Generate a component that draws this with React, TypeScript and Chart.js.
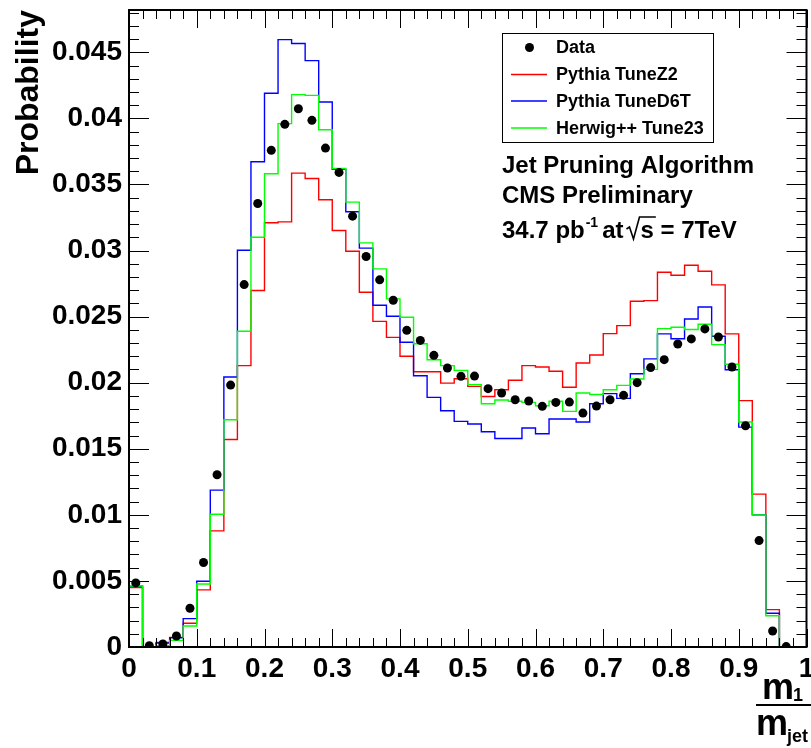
import React, { useEffect, useRef } from 'react';
import { Chart, registerables } from 'chart.js';

Chart.register(...registerables);

const FONT = '"Liberation Sans", Arial, Helvetica, sans-serif';

// bin centres of the m1/mjet histogram (50 bins)
const binCenters = [
  0.01, 0.03, 0.05, 0.07, 0.09, 0.11, 0.13, 0.15, 0.17, 0.19,
  0.21, 0.23, 0.25, 0.27, 0.29, 0.31, 0.33, 0.35, 0.37, 0.39,
  0.41, 0.43, 0.45, 0.47, 0.49, 0.51, 0.53, 0.55, 0.57, 0.59,
  0.61, 0.63, 0.65, 0.67, 0.69, 0.71, 0.73, 0.75, 0.77, 0.79,
  0.81, 0.83, 0.85, 0.87, 0.89, 0.91, 0.93, 0.95, 0.97, 0.99,
];
const BIN_WIDTH = 0.02;

const dataValues: (number | null)[] = [
  0.00485, 0.0001, 0.00023, 0.00083, 0.00293, 0.00639, 0.01303, 0.01982, 0.02742, 0.03356,
  0.03758, 0.03955, 0.04073, 0.03985, 0.03775, 0.03591, 0.0326, 0.02955, 0.02778, 0.02624,
  0.02396, 0.0232, 0.02207, 0.02111, 0.02048, 0.0205, 0.01955, 0.01922, 0.01871, 0.01861,
  0.01821, 0.01851, 0.01853, 0.0177, 0.01823, 0.01871, 0.01904, 0.02, 0.02114, 0.02174,
  0.02293, 0.02331, 0.02407, 0.02346, 0.02119, 0.01674, 0.00805, 0.00121, 0.00003, null,
];

const pythiaZ2 = [
  0.00449, 0.00002, 0.00035, 0.00073, 0.0018, 0.00432, 0.00879, 0.0157, 0.02129, 0.02697,
  0.0321, 0.03217, 0.03586, 0.03545, 0.03384, 0.03152, 0.02995, 0.02684, 0.02464, 0.02343,
  0.022, 0.02083, 0.02083, 0.01997, 0.0203, 0.01972, 0.01896, 0.01947, 0.02018, 0.02129,
  0.02119, 0.02086, 0.01965, 0.02149, 0.0221, 0.02371, 0.02432, 0.02616, 0.02621, 0.02836,
  0.02813, 0.02889, 0.02843, 0.0274, 0.02369, 0.01864, 0.01157, 0.00283, 0.0, 0.0,
];

const pythiaD6T = [
  0.0046, 0.00002, 0.0003, 0.0007, 0.00215, 0.00497, 0.01187, 0.02043, 0.03002, 0.03672,
  0.0419, 0.04596, 0.04566, 0.04437, 0.04124, 0.03614, 0.03293, 0.03018, 0.02586, 0.02503,
  0.02306, 0.02053, 0.01889, 0.01788, 0.01707, 0.01687, 0.01629, 0.01578, 0.01578, 0.01657,
  0.01614, 0.01725, 0.01725, 0.01702, 0.01841, 0.01917, 0.01881, 0.02068, 0.0218, 0.02369,
  0.02333, 0.02482, 0.02573, 0.02351, 0.02098, 0.01664, 0.01, 0.00255, 0.0, 0.0,
];

const herwig23 = [
  0.00462, 0.00001, 0.0001, 0.0005, 0.00159, 0.00477, 0.01005, 0.0172, 0.02389, 0.03101,
  0.03581, 0.0396, 0.0418, 0.04174, 0.03914, 0.03621, 0.03366, 0.03058, 0.02861, 0.02634,
  0.02495, 0.02295, 0.02174, 0.02129, 0.02093, 0.01985, 0.01841, 0.01869, 0.0186, 0.01851,
  0.01826, 0.01859, 0.01783, 0.01922, 0.01911, 0.01947, 0.0198, 0.02028, 0.02101, 0.02409,
  0.02419, 0.02402, 0.02442, 0.02288, 0.02139, 0.01702, 0.01, 0.00237, 0.0, 0.0,
];

const xTickValues = [0, 0.1, 0.2, 0.3, 0.4, 0.5, 0.6, 0.7, 0.8, 0.9, 1];
const yTickValues = [0, 0.005, 0.01, 0.015, 0.02, 0.025, 0.03, 0.035, 0.04, 0.045];
const Y_MAX = 0.0482;

const seriesLabels = ['Data', 'Pythia TuneZ2', 'Pythia TuneD6T', 'Herwig++ Tune23'];
const seriesColors = ['#000000', '#ff0000', '#0000ff', '#00ff00'];
const annotationLines = ['Jet Pruning Algorithm', 'CMS Preliminary'];

const fmt = (v: number) => String(parseFloat(Number(v).toFixed(4)));

function histPoints(values: number[]) {
  const pts: { x: number; y: number }[] = [{ x: binCenters[0] - BIN_WIDTH / 2, y: 0 }];
  values.forEach((v, i) => pts.push({ x: binCenters[i] - BIN_WIDTH / 2, y: v }));
  pts.push({ x: binCenters[binCenters.length - 1] + BIN_WIDTH / 2, y: 0 });
  return pts;
}

const rootStyle = {
  id: 'rootStyle',
  afterDatasetsDraw(chart: any) {
    const ctx = chart.ctx as CanvasRenderingContext2D;
    const { left, right, top, bottom } = chart.chartArea;
    const xs = chart.scales.x;
    const ys = chart.scales.y;
    ctx.save();
    ctx.strokeStyle = '#000';
    ctx.lineWidth = 1;
    ctx.beginPath();
    for (let i = 0; i <= 50; i++) {
      const px = Math.round(xs.getPixelForValue(i * 0.02)) + 0.5;
      const len = i % 5 === 0 ? 18 : 9;
      ctx.moveTo(px, bottom);
      ctx.lineTo(px, bottom - len);
      ctx.moveTo(px, top);
      ctx.lineTo(px, top + len);
    }
    for (let i = 0; i <= 60; i++) {
      const v = i * 0.001;
      if (v > ys.max + 1e-9) break;
      const py = Math.round(ys.getPixelForValue(v)) + 0.5;
      const len = i % 5 === 0 ? 20 : 10;
      ctx.moveTo(left, py);
      ctx.lineTo(left + len, py);
      ctx.moveTo(right, py);
      ctx.lineTo(right - len, py);
    }
    ctx.stroke();
    ctx.lineWidth = 2;
    ctx.strokeRect(left, top, right - left, bottom - top);
    ctx.restore();
  },
  afterDraw(chart: any) {
    const ctx = chart.ctx as CanvasRenderingContext2D;
    ctx.save();
    // Legend
    ctx.fillStyle = '#fff';
    ctx.fillRect(502.5, 33.5, 211, 109);
    ctx.strokeStyle = '#000';
    ctx.lineWidth = 1;
    ctx.strokeRect(502.5, 33.5, 211, 109);
    const rows = [47.5, 74.5, 101, 128];
    ctx.font = `bold 18px ${FONT}`;
    ctx.textBaseline = 'middle';
    ctx.textAlign = 'left';
    seriesLabels.forEach((lab, i) => {
      const y = rows[i];
      if (i === 0) {
        ctx.fillStyle = '#000';
        ctx.beginPath();
        ctx.arc(529.5, y, 4.5, 0, Math.PI * 2);
        ctx.fill();
      } else {
        ctx.strokeStyle = seriesColors[i];
        ctx.lineWidth = 1.3;
        ctx.beginPath();
        ctx.moveTo(511, y);
        ctx.lineTo(547, y);
        ctx.stroke();
      }
      ctx.fillStyle = '#000';
      ctx.fillText(lab, 556, y + 1);
    });

    // Annotations
    ctx.textBaseline = 'alphabetic';
    ctx.font = `bold 24px ${FONT}`;
    ctx.fillText(annotationLines[0], 502, 173);
    ctx.fillText(annotationLines[1], 502, 203);
    let x = 502;
    const base = 238;
    ctx.fillText('34.7 pb', x, base);
    x += ctx.measureText('34.7 pb').width + 1;
    ctx.font = `bold 14px ${FONT}`;
    ctx.fillText('-1', x, base - 11);
    x += ctx.measureText('-1').width + 4;
    ctx.font = `bold 24px ${FONT}`;
    ctx.fillText('at', x, base);
    x += ctx.measureText('at').width + 3;
    const sW = ctx.measureText('s').width;
    ctx.strokeStyle = '#000';
    ctx.lineWidth = 1.6;
    ctx.beginPath();
    ctx.moveTo(x, base - 9);
    ctx.lineTo(x + 3, base - 11);
    ctx.lineTo(x + 7, base + 1);
    ctx.lineTo(x + 13, base - 21);
    ctx.lineTo(x + 14 + sW + 2, base - 21);
    ctx.stroke();
    x += 14;
    ctx.fillText('s = 7TeV', x, base);

    // Y title
    ctx.save();
    ctx.font = `bold 32px ${FONT}`;
    ctx.translate(38, 10);
    ctx.rotate(-Math.PI / 2);
    ctx.textAlign = 'right';
    ctx.fillText('Probability', 0, 0);
    ctx.restore();

    // X title (fraction m1 / mjet)
    ctx.font = `bold 36px ${FONT}`;
    ctx.textAlign = 'left';
    ctx.fillText('m', 762, 699);
    const mW = ctx.measureText('m').width;
    ctx.font = `bold 18px ${FONT}`;
    ctx.fillText('1', 762 + mW - 1, 701);
    ctx.fillRect(756, 704, 55, 2);
    ctx.font = `bold 36px ${FONT}`;
    ctx.fillText('m', 756, 735);
    ctx.font = `bold 18px ${FONT}`;
    ctx.fillText('jet', 756 + mW - 1, 742);
    ctx.restore();
  },
};

export default function App() {
  const ref = useRef<HTMLCanvasElement | null>(null);
  useEffect(() => {
    if (!ref.current) return;
    const tickFont = { family: FONT, size: 28, weight: 'bold' as const, lineHeight: 1 };
    const chart = new Chart(ref.current, {
      type: 'line',
      data: {
        datasets: [
          {
            label: seriesLabels[0],
            data: binCenters.map((c, i) => ({ x: c, y: dataValues[i] as any })),
            showLine: false,
            pointRadius: 4.5,
            pointBackgroundColor: '#000',
            pointBorderColor: '#000',
            pointBorderWidth: 0,
            borderColor: '#000',
            order: 0,
          },
          {
            label: seriesLabels[3],
            data: histPoints(herwig23),
            stepped: 'before',
            borderColor: seriesColors[3],
            borderWidth: 1.4,
            pointRadius: 0,
            fill: false,
            order: 1,
          },
          {
            label: seriesLabels[2],
            data: histPoints(pythiaD6T),
            stepped: 'before',
            borderColor: seriesColors[2],
            borderWidth: 1.4,
            pointRadius: 0,
            fill: false,
            order: 2,
          },
          {
            label: seriesLabels[1],
            data: histPoints(pythiaZ2),
            stepped: 'before',
            borderColor: seriesColors[1],
            borderWidth: 1.4,
            pointRadius: 0,
            fill: false,
            order: 3,
          },
        ] as any,
      },
      options: {
        responsive: false,
        animation: false,
        devicePixelRatio: 1,
        layout: { padding: { top: 10, right: 4, left: 0, bottom: 0 } },
        plugins: {
          legend: { display: false },
          tooltip: { enabled: false },
          title: { display: false },
        },
        scales: {
          x: {
            type: 'linear',
            min: 0,
            max: 1,
            grid: { display: false, drawTicks: false },
            border: { display: false },
            afterBuildTicks: (s: any) => {
              s.ticks = xTickValues.map((v) => ({ value: v }));
            },
            afterFit: (s: any) => {
              s.height = 101;
              s.paddingLeft = 0;
              s.paddingRight = 0;
              s.paddingTop = 0;
              s.paddingBottom = 0;
            },
            ticks: {
              autoSkip: false,
              maxRotation: 0,
              padding: 8,
              color: '#000',
              font: tickFont,
              callback: (v: any) => fmt(v),
            },
          },
          y: {
            type: 'linear',
            min: 0,
            max: Y_MAX,
            grid: { display: false, drawTicks: false },
            border: { display: false },
            afterBuildTicks: (s: any) => {
              s.ticks = yTickValues.map((v) => ({ value: v }));
            },
            afterFit: (s: any) => {
              s.width = 129;
              s.paddingTop = 0;
              s.paddingBottom = 0;
              s.paddingLeft = 0;
              s.paddingRight = 0;
            },
            ticks: {
              autoSkip: false,
              padding: 7,
              color: '#000',
              font: tickFont,
              callback: (v: any) => fmt(v),
            },
          },
        },
      } as any,
      plugins: [rootStyle],
    });
    return () => chart.destroy();
  }, []);
  return (
    <div style={{ position: 'fixed', left: 0, top: 0, width: 811, height: 748, background: '#fff' }}>
      <canvas ref={ref} width={811} height={748} style={{ display: 'block' }} />
    </div>
  );
}
